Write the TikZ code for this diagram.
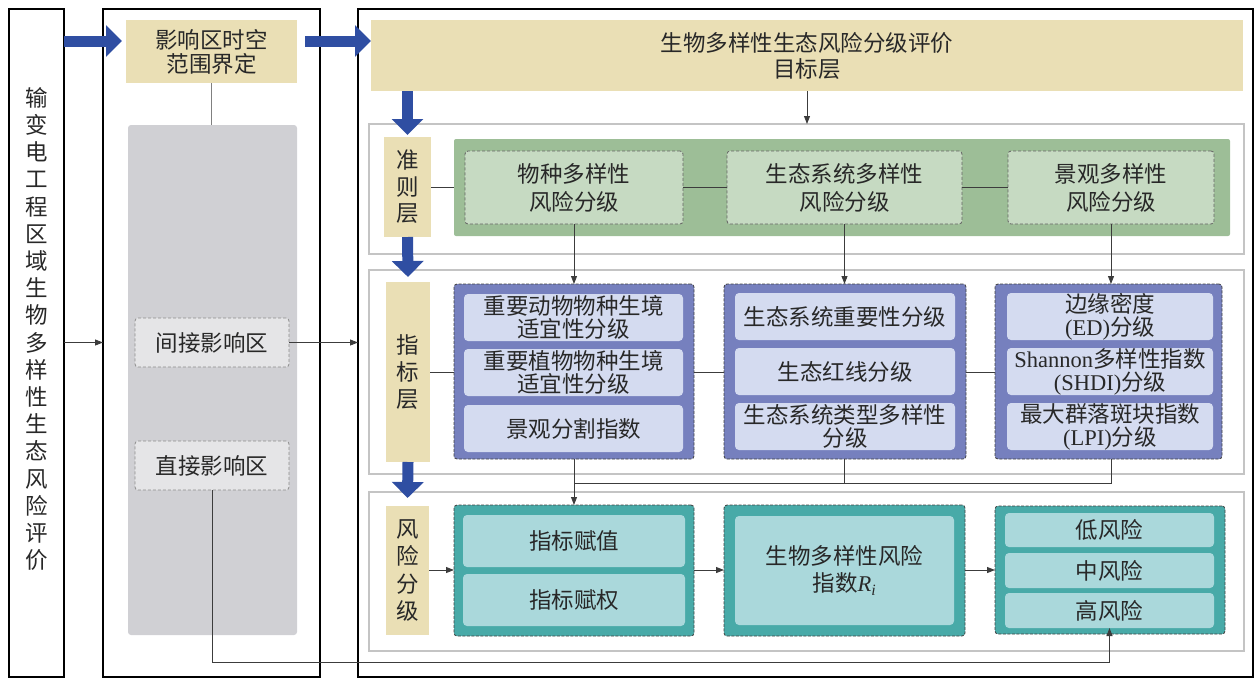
\documentclass[tikz,border=0pt]{standalone}
\usepackage{fontspec}
\setmainfont{Noto Sans CJK SC}
\newfontfamily\lat{Liberation Serif}
\usetikzlibrary{arrows.meta}
\definecolor{tanc}{RGB}{234,223,181}
\definecolor{bluec}{RGB}{47,78,162}
\definecolor{colc}{RGB}{208,208,212}
\definecolor{zonec}{RGB}{229,229,231}
\definecolor{zoneb}{RGB}{140,140,140}
\definecolor{panelc}{RGB}{196,196,196}
\definecolor{greenP}{RGB}{157,190,151}
\definecolor{greenI}{RGB}{198,218,194}
\definecolor{purpG}{RGB}{118,128,190}
\definecolor{purpI}{RGB}{212,219,240}
\definecolor{tealG}{RGB}{72,170,168}
\definecolor{tealI}{RGB}{170,216,219}
\definecolor{connc}{RGB}{60,60,60}
\definecolor{txt}{RGB}{40,40,40}
\newcommand\placebox[7]{%
  \pgfmathsetmacro\bxw{#4-#2}%
  \pgfmathsetmacro\bxh{#5-#3}%
  \node[#6, minimum width=\bxw pt, minimum height=\bxh pt] (#1) at ({(#2+#4)/2},{(#3+#5)/2}) {#7};%
}
\begin{document}
\begin{tikzpicture}[x=1pt,y=-1pt,
  base/.style={inner sep=0pt, outer sep=0pt, align=center, text=txt, font=\fontsize{22.5}{24}\selectfont},
  outer/.style={base, draw=black, line width=2pt},
  tanbox/.style={base, fill=tanc},
  vert/.style={base, fill=tanc, font=\fontsize{22.5}{27}\selectfont},
  column/.style={base, fill=colc, rounded corners=3pt},
  zone/.style={base, fill=zonec, draw=zoneb, dash pattern=on 3pt off 2pt, line width=0.8pt, rounded corners=3pt},
  panel/.style={base, draw=panelc, line width=2.5pt},
  greenpanel/.style={base, fill=greenP, rounded corners=2pt},
  greenbox/.style={base, fill=greenI, draw=connc!80, dash pattern=on 3pt off 2pt, line width=0.8pt, rounded corners=3pt, font=\fontsize{22.5}{28}\selectfont},
  purpgroup/.style={base, fill=purpG, draw=black!75, dash pattern=on 3pt off 1.5pt, line width=0.8pt, rounded corners=3pt},
  purpbox/.style={base, fill=purpI, rounded corners=4pt, font=\fontsize{22.5}{23}\selectfont},
  tealgroup/.style={base, fill=tealG, draw=black!75, dash pattern=on 3pt off 1.5pt, line width=0.8pt, rounded corners=3pt},
  tealbox/.style={base, fill=tealI, rounded corners=4pt, font=\fontsize{22.5}{27}\selectfont},
  bigarrow/.style={draw=bluec, line width=11pt, -{Triangle[length=16pt,width=31pt]}},
  conn/.style={draw=connc, line width=0.9pt, -{Triangle[length=8pt,width=6pt]}},
  link/.style={draw=connc, line width=0.9pt},
  graylink/.style={draw=black!50, line width=1pt}
]
\useasboundingbox (0,0) rectangle (1257,678);
% outer frames
\placebox{L}{9}{9}{64}{677}{outer}{}
\node[base, font=\fontsize{22.5}{27.2}\selectfont] (Ltext) at (36.5,329) {输\\变\\电\\工\\程\\区\\域\\生\\物\\多\\样\\性\\生\\态\\风\\险\\评\\价};
\placebox{M}{103}{9}{320}{677}{outer}{}
\placebox{R}{358}{9}{1253}{677}{outer}{}
% middle column
\placebox{scope}{126}{20}{297}{83}{tanbox}{影响区时空\\范围界定}
\placebox{gcol}{128}{125}{297}{635}{column}{}
\placebox{ind}{135}{318}{289}{367}{zone}{间接影响区}
\placebox{dir}{135}{441}{289}{490}{zone}{直接影响区}
% target layer
\placebox{target}{371}{20}{1243}{91}{tanbox, font=\fontsize{22.5}{26}\selectfont}{生物多样性生态风险分级评价\\目标层}
% criteria layer
\placebox{critp}{369}{124}{1244}{254}{panel}{}
\placebox{critl}{384}{137}{431}{237}{vert, font=\fontsize{22.5}{26.5}\selectfont}{准\\则\\层}
\placebox{green}{454}{139}{1230}{236}{greenpanel}{}
\placebox{c1}{465}{151}{683}{224}{greenbox}{物种多样性\\风险分级}
\placebox{c2}{727}{151}{962}{224}{greenbox}{生态系统多样性\\风险分级}
\placebox{c3}{1008}{151}{1214}{224}{greenbox}{景观多样性\\风险分级}
% indicator layer
\placebox{indp}{369}{270}{1244}{474}{panel}{}
\placebox{indl}{386}{282}{430}{462}{vert}{指\\标\\层}
\placebox{g1}{454}{284}{694}{459}{purpgroup}{}
\placebox{g2}{724}{284}{966}{459}{purpgroup}{}
\placebox{g3}{995}{284}{1222}{459}{purpgroup}{}
\placebox{i11}{464}{294}{683}{341}{purpbox}{重要动物物种生境\\适宜性分级}
\placebox{i12}{464}{349}{683}{396}{purpbox}{重要植物物种生境\\适宜性分级}
\placebox{i13}{464}{405}{683}{452}{purpbox}{景观分割指数}
\placebox{i21}{735}{293}{955}{340}{purpbox}{生态系统重要性分级}
\placebox{i22}{735}{348}{955}{395}{purpbox}{生态红线分级}
\placebox{i23}{735}{403}{955}{450}{purpbox}{生态系统类型多样性\\分级}
\placebox{i31}{1007}{293}{1213}{340}{purpbox}{边缘密度\\{\lat (ED)}分级}
\placebox{i32}{1007}{348}{1213}{395}{purpbox}{{\lat Shannon}多样性指数\\{\lat (SHDI)}分级}
\placebox{i33}{1007}{403}{1213}{450}{purpbox}{最大群落斑块指数\\{\lat (LPI)}分级}
% risk layer
\placebox{riskp}{369}{492}{1244}{651}{panel}{}
\placebox{riskl}{386}{506}{429}{635}{vert, font=\fontsize{22.5}{27.5}\selectfont}{风\\险\\分\\级}
\placebox{r1}{454}{505}{694}{636}{tealgroup}{}
\placebox{r2}{724}{505}{965}{636}{tealgroup}{}
\placebox{r3}{995}{506}{1225}{634}{tealgroup}{}
\placebox{r11}{463}{515}{685}{567}{tealbox}{指标赋值}
\placebox{r12}{463}{574}{685}{626}{tealbox}{指标赋权}
\placebox{r21}{735}{516}{954}{625}{tealbox}{生物多样性风险\\指数{\lat\itshape R\textsubscript{i}}}
\placebox{low}{1005}{513}{1214}{547}{tealbox}{低风险}
\placebox{mid}{1005}{553}{1214}{588}{tealbox}{中风险}
\placebox{high}{1005}{593}{1214}{628}{tealbox}{高风险}
% big blue arrows
\draw[bigarrow] ([yshift=10.5pt]scope.west -| L.east) -- ([xshift=-4pt,yshift=10.5pt]scope.west);
\draw[bigarrow] ([xshift=8pt,yshift=10.5pt]scope.east) -- ([yshift=10.5pt]scope.east -| target.west);
\draw[bigarrow] (target.south -| critl.north) -- ([yshift=2pt]critl.north);
\draw[bigarrow] (critl.south) -- ([yshift=5pt]indl.north);
\draw[bigarrow] (indl.south) -- ([yshift=8pt]riskl.north);
% middle column connectors
\draw[graylink] (scope.south) -- (gcol.north -| scope.south);
\draw[conn] (L.east |- ind.east) -- (M.west |- ind.east);
\draw[conn] (ind.east) -- (R.west |- ind.east);
\draw[conn] (dir.south) -- ++(0,172) -| (high.south);
% target to criteria
\draw[conn] (target.south) -- (target.south |- critp.north);
% criteria links
\draw[link] (critl.east |- green.west) -- (green.west);
\draw[link] (c1.east) -- (c2.west);
\draw[link] (c2.east) -- (c3.west);
\draw[conn] (c1.south) -- (c1.south |- g1.north);
\draw[conn] (c2.south) -- (c2.south |- g2.north);
\draw[conn] (c3.south) -- (c3.south |- g3.north);
% indicator links
\draw[link] (indl.east |- 0,372) -- (g1.west |- 0,372);
\draw[link] (g1.east |- 0,372) -- (g2.west |- 0,372);
\draw[link] (g2.east |- 0,372) -- (g3.west |- 0,372);
\coordinate (mrg) at (g1.south |- 0,483);
\draw[link] (g2.south -| c2.south) |- (mrg);
\draw[link] (g3.south -| c3.south) |- (mrg);
\draw[conn] (g1.south -| c1.south) -- (r1.north -| c1.south);
% risk links
\draw[conn] (riskl.east |- 0,570) -- (r1.west |- 0,570);
\draw[conn] (r1.east |- 0,570) -- (r2.west |- 0,570);
\draw[conn] (r2.east |- 0,570) -- (r3.west |- 0,570);
\end{tikzpicture}
\end{document}
